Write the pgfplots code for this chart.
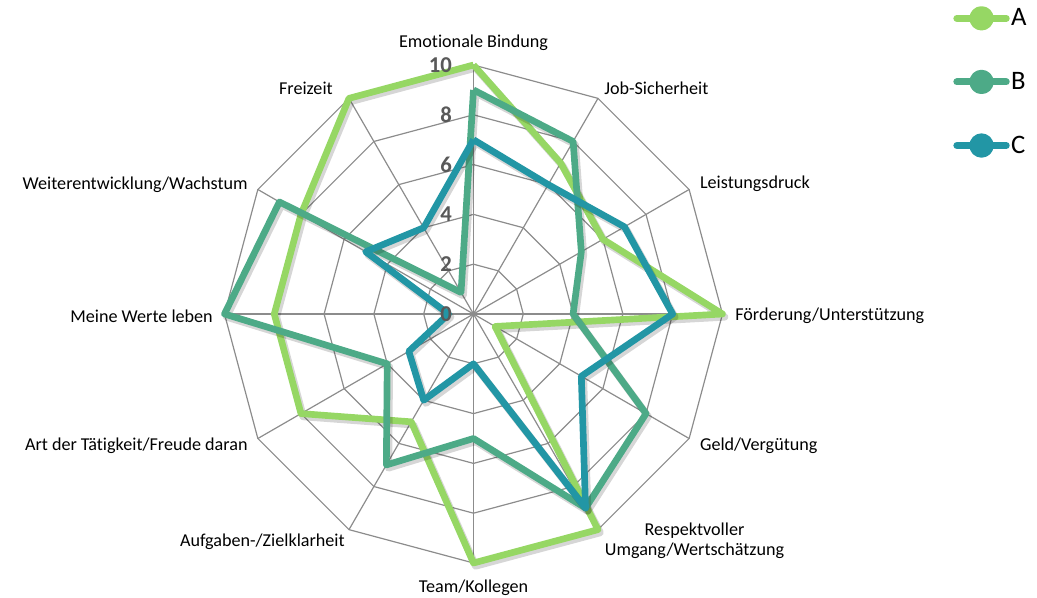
\documentclass[border=0pt]{standalone}
\usepackage{fontspec}
\setmainfont{Carlito}[Ligatures=NoCommon]
\usepackage{pgfplots}
\pgfplotsset{compat=1.18}
\usepgfplotslibrary{polar}
\definecolor{serA}{HTML}{96D764}
\definecolor{serB}{HTML}{4DAA87}
\definecolor{serC}{HTML}{2296A5}
\definecolor{gridc}{HTML}{8C8C8C}
\definecolor{tickc}{HTML}{595959}

% angle of each category, clockwise from the top
\pgfplotstableread{
ang A  B  C
90  10 9  7
60  7  8  6
30  6  5  7
0   10 4  8
330 1  8  5
300 10 9  9
270 10 5  2
240 5  7  4
210 8  4  3
180 8  10 1
150 8  9  5
120 10 1  4
90  10 9  7
}\radar

\pgfplotsset{
  ser/.style={line width=5pt, line join=round, color=#1},
  shade/.style={black, opacity=0.16, line width=5.5pt, line join=round,
    shift={(1.6pt,-2.2pt)}, forget plot},
}
\tikzset{
  lbl/.style={font=\fontsize{13.6}{15}\selectfont, text=black, inner sep=0pt},
  tck/.style={font=\fontsize{17}{18}\selectfont\bfseries, text=tickc,
    inner sep=0pt, anchor=east, xshift=-16pt},
}

\begin{document}
\begin{tikzpicture}
\useasboundingbox (-355.125pt,-213pt) rectangle (422.625pt,235.5pt);
\begin{polaraxis}[
  at={(0,0)}, anchor=center,
  scale only axis, width=373.5pt, height=373.5pt,
  xmin=0, xmax=360, ymin=0, ymax=10,
  hide axis, clip=false,
  legend style={at={(1.463,0.966)}, anchor=west, draw=none, fill=none,
    inner sep=0pt, row sep=29.5pt, font=\fontsize{20}{22}\selectfont,
    nodes={inner sep=1pt}},
  legend cell align=left,
  legend image code/.code={
    \draw[line width=5.3pt, line cap=round] (0pt,0pt) -- (37pt,0pt);
    \fill (18.5pt,0pt) circle (6.6pt);
  },
]
% polygonal grid and spokes
\pgfplotsinvokeforeach{2,4,6,8,10}{
  \addplot[gridc, line width=0.9pt, forget plot] coordinates {
    (0,#1) (30,#1) (60,#1) (90,#1) (120,#1) (150,#1) (180,#1)
    (210,#1) (240,#1) (270,#1) (300,#1) (330,#1) (360,#1)};
}
\pgfplotsinvokeforeach{0,30,...,330}{
  \addplot[gridc, line width=0.9pt, forget plot] coordinates {(#1,0) (#1,10)};
}

\addplot[shade] table[x=ang, y=A] {\radar};
\addplot[ser=serA] table[x=ang, y=A] {\radar};
\addplot[shade] table[x=ang, y=B] {\radar};
\addplot[ser=serB] table[x=ang, y=B] {\radar};
\addplot[shade] table[x=ang, y=C] {\radar};
\addplot[ser=serC] table[x=ang, y=C] {\radar};
\legend{A,B,C}

% radial tick labels
\pgfplotsinvokeforeach{0,2,4,6,8,10}{
  \node[tck] at (axis cs:90,#1) {#1};
}

% category labels
\node[lbl, anchor=center, yshift=17pt] at (axis cs:90,10) {Emotionale Bindung};
\node[lbl, anchor=west, xshift=4.5pt, yshift=7.5pt] at (axis cs:60,10) {Job-Sicherheit};
\node[lbl, anchor=west, xshift=8pt, yshift=4pt] at (axis cs:30,10) {Leistungsdruck};
\node[lbl, anchor=west, xshift=9.4pt, yshift=-1pt] at (axis cs:0,10) {Förderung/Unterstützung};
\node[lbl, anchor=west, xshift=8pt, yshift=-5.6pt] at (axis cs:330,10) {Geld/Vergütung};
\node[lbl, anchor=west, align=center, xshift=5pt, yshift=-8.5pt] at (axis cs:300,10) {Respektvoller\\Umgang/Wertschätzung};
\node[lbl, anchor=center, yshift=-18.75pt] at (axis cs:270,10) {Team/Kollegen};
\node[lbl, anchor=east, xshift=-3pt, yshift=-9.3pt] at (axis cs:240,10) {Aufgaben-/Zielklarheit};
\node[lbl, anchor=east, xshift=-7.5pt, yshift=-5.6pt] at (axis cs:210,10) {Art der Tätigkeit/Freude daran};
\node[lbl, anchor=east, xshift=-8.6pt, yshift=-1.5pt] at (axis cs:180,10) {Meine Werte leben};
\node[lbl, anchor=east, xshift=-7.5pt, yshift=3.4pt] at (axis cs:150,10) {Weiterentwicklung/Wachstum};
\node[lbl, anchor=east, xshift=-12pt, yshift=7.5pt] at (axis cs:120,10) {Freizeit};
\end{polaraxis}
\end{tikzpicture}
\end{document}
